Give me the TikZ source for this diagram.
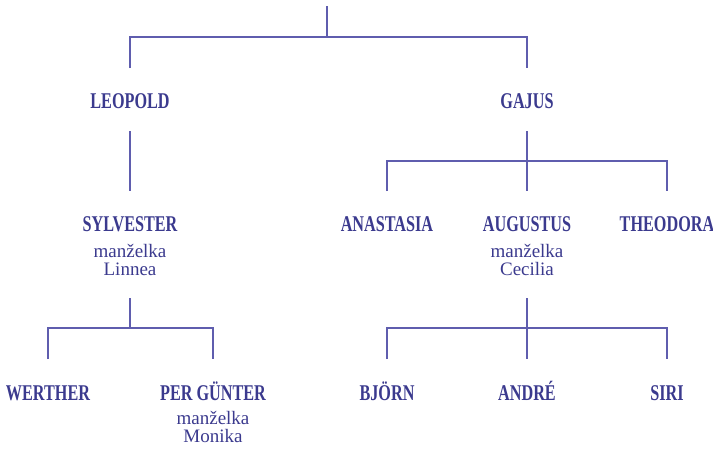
\documentclass[tikz,border=0pt]{standalone}
\usepackage{fontspec}
\setmainfont{Liberation Serif}
\newfontfamily\namefont[FakeStretch=0.72]{Liberation Serif Bold}
\definecolor{ink}{HTML}{3B3A8E}
\definecolor{linec}{HTML}{5F5DAE}
\tikzset{
  person/.style={anchor=base, inner sep=0pt, text=ink, font=\namefont\fontsize{22.5}{24}\selectfont},
  spouse/.style={anchor=base, inner sep=0pt, text=ink, font=\fontsize{19}{18}\selectfont},
  link/.style={draw=linec, line width=1.4pt},
}
\begin{document}
\begin{tikzpicture}[x=1pt,y=-1pt]
\useasboundingbox (0,0) rectangle (713,448);
% level 1
\node[person] (leopold) at (130,108) {LEOPOLD};
\node[person] (gajus) at (527,108) {GAJUS};
% level 2
\node[person] (sylvester) at (130,231) {SYLVESTER};
\node[spouse] (sylS1) at (130,257) {manželka};
\node[spouse] (sylS2) at (130,275) {Linnea};
\node[person] (anastasia) at (387,231) {ANASTASIA};
\node[person] (augustus) at (527,231) {AUGUSTUS};
\node[spouse] (augS1) at (527,257) {manželka};
\node[spouse] (augS2) at (527,275) {Cecilia};
\node[person] (theodora) at (667,231) {THEODORA};
% level 3
\node[person] (werther) at (48,400) {WERTHER};
\node[person] (pergunter) at (213,400) {PER GÜNTER};
\node[spouse] (perS1) at (213,424) {manželka};
\node[spouse] (perS2) at (213,442) {Monika};
\node[person] (bjorn) at (387,400) {BJÖRN};
\node[person] (andre) at (527,400) {ANDRÉ};
\node[person] (siri) at (667,400) {SIRI};
% connector points
\coordinate (root) at (327,6);
\coordinate (bar0) at (327,37);
\coordinate (leoIn) at (130,68);
\coordinate (gajIn) at (527,68);
\coordinate (leoOut) at (130,131);
\coordinate (sylIn) at (130,191);
\coordinate (gajOut) at (527,131);
\coordinate (bar1) at (527,161);
\coordinate (anaIn) at (387,191);
\coordinate (augIn) at (527,191);
\coordinate (theIn) at (667,191);
\coordinate (sylOut) at (130,298);
\coordinate (bar2) at (130,328);
\coordinate (werIn) at (48,359);
\coordinate (perIn) at (213,359);
\coordinate (augOut) at (527,298);
\coordinate (bar3) at (527,328);
\coordinate (bjoIn) at (387,359);
\coordinate (andIn) at (527,359);
\coordinate (sirIn) at (667,359);
% connectors
\draw[link] (root) -- (bar0);
\draw[link] (leoIn) |- (bar0) -| (gajIn);
\draw[link] (leoOut) -- (sylIn);
\draw[link] (gajOut) -- (augIn);
\draw[link] (anaIn) |- (bar1) -| (theIn);
\draw[link] (sylOut) -- (bar2);
\draw[link] (werIn) |- (bar2) -| (perIn);
\draw[link] (augOut) -- (andIn);
\draw[link] (bjoIn) |- (bar3) -| (sirIn);
\end{tikzpicture}
\end{document}
